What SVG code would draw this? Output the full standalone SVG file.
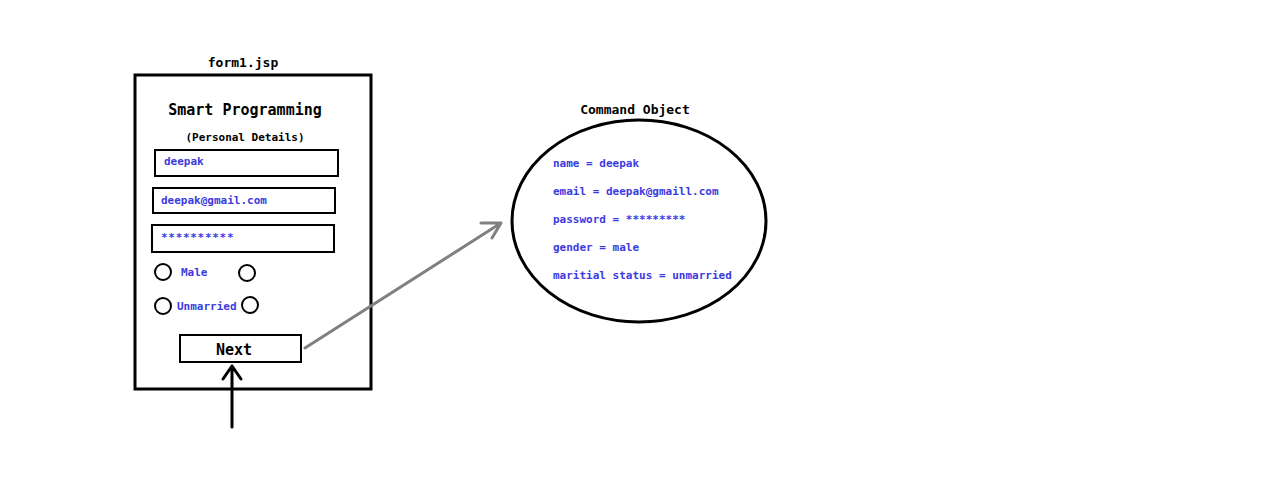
<svg xmlns="http://www.w3.org/2000/svg" width="1280" height="490" viewBox="0 0 1280 490">
<style>
.t{font-family:"DejaVu Sans Mono","Liberation Mono",monospace;font-weight:bold;fill:#000}
.b{font-family:"DejaVu Sans Mono","Liberation Mono",monospace;font-size:11px;font-weight:bold;fill:#3b3be0}
.box{fill:#fff;stroke:#000;stroke-width:2}
.rad{fill:none;stroke:#000;stroke-width:2}
</style>
<rect width="1280" height="490" fill="#fff"/>
<g id="form">
<rect x="135" y="75" width="236" height="314" fill="#fff" stroke="#000" stroke-width="3"/>
<text class="t" x="243" y="67" font-size="13" text-anchor="middle">form1.jsp</text>
<text class="t" x="245" y="115" font-size="15" text-anchor="middle">Smart Programming</text>
<text class="t" x="245" y="141" font-size="11" text-anchor="middle">(Personal Details)</text>
</g>
<g id="input-name">
<rect class="box" x="155" y="150" width="183" height="26"/>
<text class="b" x="164" y="165">deepak</text>
</g>
<g id="input-email">
<rect class="box" x="153" y="188" width="182" height="25"/>
<text class="b" x="161" y="204">deepak@gmail.com</text>
</g>
<g id="input-password">
<rect class="box" x="152" y="225" width="182" height="27"/>
<text class="b" x="161" y="241" letter-spacing="0.7">**********</text>
</g>
<g id="radio-gender">
<circle class="rad" cx="163" cy="272" r="8"/>
<text class="b" x="181" y="276">Male</text>
<circle class="rad" cx="247" cy="273" r="8"/>
</g>
<g id="radio-marital">
<circle class="rad" cx="163" cy="306" r="8"/>
<text class="b" x="177" y="310">Unmarried</text>
<circle class="rad" cx="250" cy="305" r="8"/>
</g>
<g id="next">
<rect class="box" x="180" y="335" width="121" height="27"/>
<text class="t" x="234" y="355" font-size="15" text-anchor="middle">Next</text>
</g>
<g id="command-object">
<ellipse cx="639" cy="221" rx="127" ry="101" fill="#fff" stroke="#000" stroke-width="3"/>
<text class="t" x="635" y="114" font-size="13" text-anchor="middle">Command Object</text>
<text class="b" x="553" y="167">name = deepak</text>
<text class="b" x="553" y="195">email = deepak@gmaill.com</text>
<text class="b" x="553" y="223">password = *********</text>
<text class="b" x="553" y="251">gender = male</text>
<text class="b" x="553" y="279">maritial status = unmarried</text>
</g>
<g id="connectors" fill="none" stroke-linecap="round" stroke-linejoin="round">
<path d="M232 427 V366 M223 379 L232 366 L241 379" stroke="#000" stroke-width="3"/>
<path d="M305 348 L501 223 M481 223 L501 223 L492 238" stroke="#808080" stroke-width="3"/>
</g>
</svg>
